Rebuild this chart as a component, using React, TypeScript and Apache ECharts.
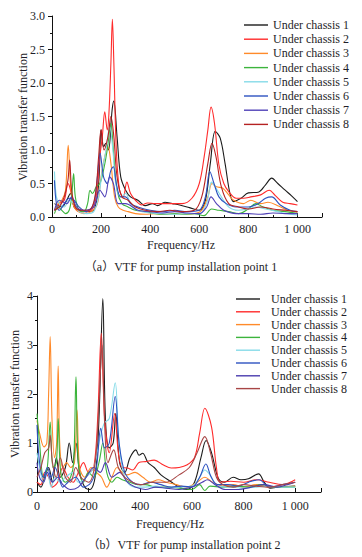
import React, { useEffect, useRef } from "react";
import * as echarts from "echarts";

const NAMES = [
  "Under chassis 1",
  "Under chassis 2",
  "Under chassis 3",
  "Under chassis 4",
  "Under chassis 5",
  "Under chassis 6",
  "Under chassis 7",
  "Under chassis 8",
];

const COLORS_A = ["#1c1c1c", "#ff2b2b", "#ff8a2a", "#3cb43c", "#86dbe8", "#2d52c0", "#5142b8", "#b52222"];
const COLORS_B = ["#1c1c1c", "#ff2b2b", "#ff8a2a", "#3cb43c", "#86dbe8", "#2d52c0", "#4a3cae", "#a84646"];

const X_TICKS = [0, 200, 400, 600, 800, 1000];
const Y_TICKS_A = [0, 0.5, 1.0, 1.5, 2.0, 2.5, 3.0];
const Y_TICKS_B = [0, 1, 2, 3, 4];

// Chart (a): pump installation point 1
const A1 = [[10,0.2],[20,0.18],[40,0.15],[60,0.25],[75,0.35],[90,0.15],[110,0.1],[140,0.08],[170,0.1],[190,0.5],[200,1.3],[210,1.05],[220,1.1],[230,1.0],[245,1.6],[252,1.73],[265,1.2],[280,0.6],[300,0.4],[320,0.3],[350,0.25],[380,0.17],[410,0.2],[430,0.17],[460,0.22],[490,0.2],[520,0.18],[560,0.14],[600,0.1],[625,0.25],[645,0.8],[665,1.28],[685,1.18],[705,0.8],[725,0.35],[740,0.23],[770,0.28],[800,0.36],[840,0.37],[870,0.48],[895,0.58],[920,0.5],[950,0.4],[975,0.32],[1000,0.23]];
const A2 = [[10,0.1],[30,0.2],[50,0.25],[65,0.5],[72,0.45],[85,0.25],[100,0.1],[130,0.08],[160,0.1],[180,0.3],[195,0.9],[205,1.2],[215,1.57],[225,1.3],[232,1.55],[240,2.3],[246,2.95],[252,2.3],[262,1.0],[275,0.4],[290,0.3],[305,0.52],[320,0.35],[340,0.25],[365,0.18],[390,0.21],[420,0.2],[450,0.2],[490,0.2],[530,0.2],[570,0.28],[600,0.5],[620,0.9],[635,1.3],[648,1.64],[662,1.4],[680,0.78],[700,0.5],[720,0.38],[750,0.28],[780,0.28],[810,0.3],[850,0.33],[885,0.4],[910,0.32],[940,0.22],[970,0.2],[1000,0.18]];
const A3 = [[10,0.1],[25,0.2],[40,0.25],[55,0.4],[66,1.07],[75,0.5],[85,0.2],[100,0.1],[130,0.05],[160,0.08],[185,0.2],[200,0.6],[215,0.9],[228,1.05],[240,0.8],[255,0.3],[270,0.15],[290,0.1],[310,0.08],[340,0.05],[380,0.04],[420,0.05],[460,0.04],[500,0.05],[540,0.04],[580,0.05],[610,0.1],[635,0.3],[652,0.5],[670,0.45],[696,0.43],[720,0.33],[740,0.25],[780,0.2],[810,0.25],[850,0.2],[880,0.22],[925,0.16],[960,0.1],[1000,0.07]];
const A4 = [[10,0.05],[25,0.15],[40,0.1],[55,0.05],[70,0.1],[80,0.3],[88,0.65],[95,0.3],[110,0.1],[130,0.08],[145,0.2],[155,0.4],[165,0.35],[180,0.45],[195,0.5],[210,0.7],[225,1.0],[240,1.4],[250,1.0],[265,0.4],[285,0.2],[310,0.15],[340,0.1],[380,0.08],[420,0.05],[460,0.04],[500,0.05],[540,0.04],[580,0.05],[620,0.02],[650,0.12],[680,0.1],[720,0.08],[760,0.05],[800,0.12],[830,0.2],[860,0.15],[900,0.1],[950,0.08],[1000,0.05]];
const A5 = [[10,0.68],[18,0.3],[30,0.2],[50,0.15],[70,0.25],[90,0.2],[110,0.08],[140,0.05],[170,0.08],[190,0.3],[205,0.7],[220,1.0],[235,1.35],[248,1.0],[260,0.5],[280,0.3],[300,0.35],[320,0.2],[350,0.1],[400,0.06],[450,0.05],[500,0.04],[550,0.05],[600,0.05],[630,0.2],[650,0.52],[665,0.45],[690,0.3],[720,0.15],[760,0.1],[800,0.12],[830,0.15],[870,0.12],[920,0.08],[960,0.05],[1000,0.03]];
const A6 = [[10,0.55],[18,0.2],[30,0.1],[50,0.2],[70,0.28],[90,0.25],[110,0.15],[140,0.08],[170,0.2],[185,0.6],[196,0.95],[210,0.6],[225,0.5],[240,0.7],[250,0.75],[262,0.5],[280,0.3],[300,0.3],[320,0.2],[350,0.15],[400,0.1],[450,0.08],[500,0.1],[550,0.08],[600,0.1],[625,0.3],[643,0.68],[660,0.5],[680,0.3],[710,0.2],[750,0.15],[800,0.15],[840,0.2],[870,0.28],[895,0.3],[930,0.18],[970,0.1],[1000,0.08]];
const A7 = [[10,0.1],[30,0.25],[60,0.2],[80,0.3],[100,0.15],[130,0.1],[170,0.15],[195,0.4],[215,0.3],[235,0.6],[250,0.5],[270,0.2],[300,0.2],[350,0.1],[400,0.08],[450,0.06],[500,0.08],[550,0.06],[600,0.05],[630,0.15],[648,0.3],[670,0.2],[700,0.1],[750,0.05],[800,0.05],[850,0.04],[900,0.06],[950,0.05],[1000,0.05]];
const A8 = [[10,0.1],[30,0.15],[50,0.3],[65,0.55],[72,0.85],[80,0.4],[95,0.15],[120,0.1],[150,0.1],[175,0.3],[190,0.9],[200,1.3],[212,1.0],[228,1.2],[240,1.5],[252,1.2],[265,0.6],[285,0.3],[310,0.25],[340,0.15],[380,0.1],[430,0.08],[480,0.1],[530,0.08],[580,0.1],[610,0.3],[635,0.8],[652,1.1],[668,0.9],[690,0.45],[720,0.2],[760,0.15],[800,0.12],[850,0.15],[900,0.12],[950,0.1],[1000,0.08]];

// Chart (b): pump installation point 2
const B1 = [[0,0.2],[15,0.1],[30,0.3],[45,0.5],[60,0.2],[75,0.7],[90,0.3],[110,0.5],[125,1.0],[138,0.6],[151,1.0],[165,0.4],[185,0.1],[205,0.05],[225,0.3],[240,1.5],[255,3.95],[265,1.5],[280,0.9],[295,1.0],[305,1.6],[320,0.6],[340,0.4],[360,0.7],[383,0.86],[395,0.75],[409,0.79],[430,0.6],[454,0.5],[480,0.35],[519,0.21],[550,0.1],[580,0.05],[610,0.2],[635,0.7],[655,1.05],[676,0.8],[702,0.28],[725,0.2],[760,0.3],[790,0.25],[819,0.27],[858,0.37],[880,0.2],[903,0.08],[940,0.1],[1000,0.12]];
const B2 = [[0,0.2],[15,0.15],[30,0.4],[45,0.3],[60,0.1],[80,0.2],[100,0.5],[120,0.3],[140,0.2],[160,0.4],[180,0.6],[200,0.4],[220,0.5],[235,1.5],[249,3.24],[262,1.5],[280,0.8],[301,1.6],[315,0.8],[330,0.5],[350,0.49],[370,0.45],[395,0.6],[420,0.62],[454,0.65],[490,0.55],[520,0.49],[550,0.5],[580,0.55],[610,0.7],[630,1.2],[650,1.71],[676,1.33],[695,0.5],[710,0.2],[750,0.22],[800,0.2],[850,0.25],[900,0.2],[950,0.15],[1000,0.25]];
const B3 = [[0,1.46],[10,1.2],[27,0.92],[38,1.0],[45,2.0],[51,3.17],[58,1.5],[68,0.7],[76,1.0],[82,2.57],[88,1.0],[100,0.5],[115,0.6],[130,0.5],[145,0.6],[155,1.67],[165,0.5],[185,0.3],[210,0.5],[230,0.4],[250,0.3],[270,0.1],[290,0.3],[310,0.5],[330,0.4],[350,0.35],[380,0.4],[410,0.3],[440,0.2],[470,0.25],[500,0.2],[540,0.15],[580,0.1],[620,0.2],[650,0.3],[680,0.2],[720,0.12],[760,0.15],[800,0.1],[850,0.15],[900,0.1],[950,0.1],[1000,0.12]];
const B4 = [[0,1.6],[10,1.0],[25,0.3],[40,0.5],[51,1.43],[62,0.5],[75,0.6],[82,1.5],[92,0.4],[110,0.2],[130,0.3],[142,0.6],[151,2.35],[160,0.6],[180,0.2],[200,0.4],[220,0.3],[240,0.6],[255,1.0],[270,0.4],[290,0.2],[310,0.3],[330,0.25],[360,0.2],[390,0.15],[420,0.15],[460,0.1],[500,0.1],[550,0.08],[600,0.05],[630,0.15],[650,0.03],[670,0.12],[720,0.1],[770,0.12],[820,0.1],[870,0.15],[920,0.1],[1000,0.1]];
const B5 = [[0,0.8],[10,0.5],[25,0.2],[40,0.4],[55,0.1],[70,0.3],[90,0.2],[110,0.3],[140,0.4],[160,0.2],[190,0.3],[220,0.5],[240,1.0],[260,1.4],[280,1.5],[303,2.23],[315,1.2],[330,0.5],[350,0.2],[380,0.1],[420,0.1],[460,0.12],[500,0.08],[550,0.1],[600,0.12],[630,0.3],[650,0.45],[670,0.35],[700,0.12],[750,0.1],[800,0.08],[850,0.1],[900,0.12],[950,0.1],[1000,0.1]];
const B6 = [[0,1.37],[10,0.6],[25,0.3],[40,0.5],[55,0.3],[70,0.5],[85,0.3],[100,0.1],[120,0.2],[150,0.3],[180,0.1],[210,0.2],[230,0.5],[247,1.3],[262,0.9],[280,1.0],[303,1.95],[318,1.0],[340,0.4],[370,0.2],[400,0.15],[440,0.2],[480,0.15],[520,0.1],[560,0.12],[600,0.1],[630,0.3],[654,0.57],[675,0.3],[700,0.15],[740,0.15],[780,0.12],[820,0.2],[860,0.25],[900,0.1],[950,0.15],[1000,0.2]];
const B7 = [[0,0.6],[10,0.3],[25,0.2],[40,0.4],[60,0.2],[80,0.3],[100,0.15],[130,0.05],[160,0.1],[190,0.3],[220,0.5],[245,0.4],[265,0.6],[290,0.3],[320,0.4],[350,0.2],[380,0.1],[420,0.05],[460,0.1],[500,0.08],[550,0.05],[600,0.1],[640,0.2],[660,0.25],[690,0.15],[730,0.05],[780,0.05],[830,0.1],[880,0.15],[930,0.1],[970,0.15],[1000,0.2]];
const B8 = [[0,0.3],[15,0.5],[30,0.8],[45,0.9],[51,1.16],[60,0.6],[75,0.3],[90,0.7],[110,0.3],[130,0.2],[150,0.5],[170,0.3],[200,0.2],[225,0.6],[240,1.8],[252,3.0],[262,1.4],[275,0.6],[297,0.86],[315,0.5],[340,0.3],[370,0.2],[400,0.15],[450,0.2],[500,0.2],[550,0.35],[590,0.5],[620,0.8],[650,1.13],[672,0.8],[695,0.3],[720,0.15],[760,0.1],[800,0.15],[850,0.12],[900,0.1],[950,0.15],[1000,0.2]];

const SERIES_A = [A1, A2, A3, A4, A5, A6, A7, A8];
const SERIES_B = [B1, B2, B3, B4, B5, B6, B7, B8];

const FONT = "'Liberation Serif', 'Times New Roman', 'Noto Sans CJK SC', serif";
const TXT = "#1e1e28";
const LEGEND_ICON = "path://M0,0 L24,0 L24,1.4 L0,1.4 Z";

function xAxis(gridIndex: number, margin: number) {
  return {
    type: "value",
    gridIndex,
    min: 0,
    max: 1100,
    interval: 200,
    axisLine: { show: true, lineStyle: { color: "#111", width: 1 } },
    axisTick: { show: true, inside: true, length: 4, lineStyle: { color: "#111" } },
    minorTick: { show: true, splitNumber: 2, length: 2, lineStyle: { color: "#111" } },
    splitLine: { show: false },
    axisLabel: {
      margin,
      color: TXT,
      fontFamily: FONT,
      fontSize: 12,
      formatter: (v: number) => (X_TICKS.indexOf(v) < 0 ? "" : v === 1000 ? "1 000" : String(v)),
    },
  };
}

function yAxis(gridIndex: number, ticks: number[], decimals: number, margin: number) {
  return {
    type: "value",
    gridIndex,
    min: ticks[0],
    max: ticks[ticks.length - 1],
    interval: ticks[1] - ticks[0],
    axisLine: { show: true, lineStyle: { color: "#111", width: 1 } },
    axisTick: { show: true, inside: false, length: 4, lineStyle: { color: "#111" } },
    minorTick: { show: true, splitNumber: 2, length: 2, lineStyle: { color: "#111" } },
    splitLine: { show: false },
    axisLabel: {
      margin,
      color: TXT,
      fontFamily: FONT,
      fontSize: 12,
      formatter: (v: number) => v.toFixed(decimals),
    },
  };
}

function legend(left: number, top: number, gap: number, colors: string[], pad: number) {
  return {
    orient: "vertical",
    left,
    top,
    itemWidth: 24,
    itemHeight: 12,
    itemGap: gap,
    padding: 0,
    icon: LEGEND_ICON,
    textStyle: { fontFamily: FONT, fontSize: 12, color: TXT, lineHeight: 12, padding: [0, 0, 0, pad] },
    data: NAMES.map((n, i) => ({
      name: n,
      icon: LEGEND_ICON,
      itemStyle: { color: colors[i], borderWidth: 0 },
    })),
  };
}

function textEl(text: string, x: number, y: number, size: number, rotation = 0) {
  return {
    type: "text",
    x,
    y,
    rotation,
    style: {
      text,
      fill: TXT,
      font: `${size}px ${FONT}`,
      textAlign: "center",
      textVerticalAlign: "middle",
    },
  };
}

export default function App() {
  const ref = useRef<HTMLDivElement>(null);
  useEffect(() => {
    const chart = echarts.init(ref.current!, null, { renderer: "svg" });
    const series: any[] = [];
    SERIES_A.forEach((d, i) =>
      series.push({
        type: "line",
        name: NAMES[i],
        xAxisIndex: 0,
        yAxisIndex: 0,
        data: d,
        smooth: 0.35,
        symbol: "none",
        lineStyle: { width: 1.1, color: COLORS_A[i] },
        itemStyle: { color: COLORS_A[i] },
      })
    );
    SERIES_B.forEach((d, i) =>
      series.push({
        type: "line",
        name: NAMES[i],
        xAxisIndex: 1,
        yAxisIndex: 1,
        data: d,
        smooth: 0.35,
        symbol: "none",
        lineStyle: { width: 1.1, color: COLORS_B[i] },
        itemStyle: { color: COLORS_B[i] },
      })
    );
    chart.setOption({
      animation: false,
      backgroundColor: "#fff",
      grid: [
        { left: 52, top: 16, width: 270, height: 201 },
        { left: 37, top: 296, width: 284, height: 196 },
      ],
      xAxis: [xAxis(0, 6), xAxis(1, 8)],
      yAxis: [yAxis(0, Y_TICKS_A, 1, 7), yAxis(1, Y_TICKS_B, 0, 4)],
      legend: [legend(244, 19, 2.2, COLORS_A, 0), legend(236, 293, 0.8, COLORS_B, 6)],
      graphic: [
        textEl("Vibration transfer function", 23, 117, 12, Math.PI / 2),
        textEl("Frequency/Hz", 181, 245, 12),
        textEl("（a）VTF for pump installation point 1", 181, 267, 12),
        textEl("Vibration transfer function", 15, 394, 12, Math.PI / 2),
        textEl("Frequency/Hz", 170, 524, 12),
        textEl("（b）VTF for pump installation point 2", 184, 545, 12),
      ],
      series,
    });
    return () => chart.dispose();
  }, []);
  return (
    <div
      ref={ref}
      style={{ position: "absolute", left: 0, top: 0, width: 362, height: 557 }}
    />
  );
}
